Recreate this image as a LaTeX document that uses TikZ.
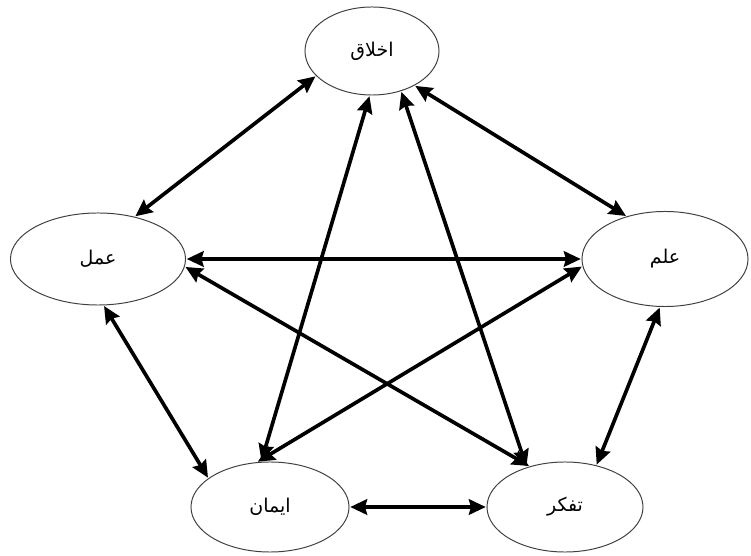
\documentclass[tikz,border=0pt]{standalone}
\usepackage{fontspec}
\usetikzlibrary{shapes.geometric, arrows.meta}
\newfontfamily\arabicfont[Script=Arabic]{DejaVu Sans}
\TeXXeTstate=1

\begin{document}
\begin{tikzpicture}[
    x=0.025cm, y=-0.025cm,
    concept/.style={ellipse, draw=black!75, line width=0.7pt, inner sep=0pt,
        font=\arabicfont\fontsize{13.5}{15}\selectfont},
    every edge/.append style={line width=2.6pt, shorten >=0.5pt, shorten <=0.5pt},
    link/.style={{Stealth[length=12pt,width=11pt,inset=1.5pt]}-{Stealth[length=12pt,width=11pt,inset=1.5pt]}}
]
   \useasboundingbox (0,0) rectangle (751,556);

   % Concepts
   \node[concept, minimum width=3.35cm, minimum height=2.2cm] (akhlagh) at (372,51) {\beginR اخلاق\endR};
   \node[concept, minimum width=4.375cm, minimum height=2.3cm] (amal) at (98,259) {\beginR عمل\endR};
   \node[concept, minimum width=4.15cm, minimum height=2.375cm] (elm) at (665,259) {\beginR علم\endR};
   \node[concept, minimum width=3.95cm, minimum height=2.25cm] (iman) at (270,507) {\beginR ایمان\endR};
   \node[concept, minimum width=3.9cm, minimum height=2.25cm] (tafakor) at (565,507) {\beginR تفکر\endR};

   % Links
   \path[link]
   (akhlagh.204) edge (amal.49)
   (akhlagh.-39) edge (elm.132)
   (akhlagh.267) edge (iman.101)
   (akhlagh.-54) edge (tafakor.134)

   (amal.east) edge (elm.west)
   (amal.-5) edge (tafakor.131)
   (amal.-83) edge (iman.155)

   (elm.185) edge (iman.106)
   (elm.264) edge (tafakor.53)

   (iman.0) edge (tafakor.180);
\end{tikzpicture}
\end{document}
